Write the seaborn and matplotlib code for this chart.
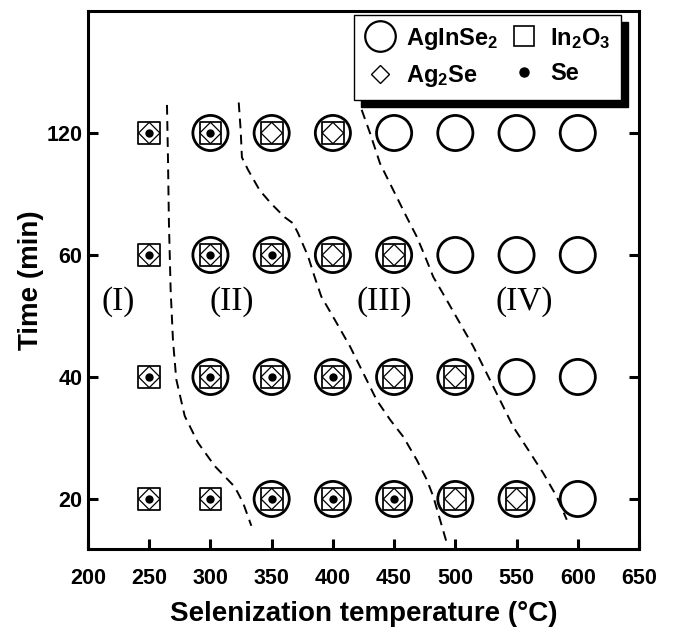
import numpy as np
import pandas as pd
import matplotlib
matplotlib.use("Agg")
import matplotlib.pyplot as plt
from matplotlib.lines import Line2D
import seaborn as sns

# Selenization conditions
temperature = [250, 300, 350, 400, 450, 500, 550, 600]
time_labels = ["20", "40", "60", "120"]          # evenly spaced on the axis

# Phase detected (1) or not (0): rows follow time_labels, columns follow temperature
agInSe2 = [[0, 0, 1, 1, 1, 1, 1, 1],
           [0, 1, 1, 1, 1, 1, 1, 1],
           [0, 1, 1, 1, 1, 1, 1, 1],
           [0, 1, 1, 1, 1, 1, 1, 1]]
in2o3 = [[1, 1, 1, 1, 1, 1, 1, 0],
         [1, 1, 1, 1, 1, 1, 0, 0],
         [1, 1, 1, 1, 1, 0, 0, 0],
         [1, 1, 1, 1, 0, 0, 0, 0]]
ag2se = [[1, 1, 1, 1, 1, 1, 1, 0],
         [1, 1, 1, 1, 1, 1, 0, 0],
         [1, 1, 1, 1, 1, 0, 0, 0],
         [1, 1, 1, 1, 0, 0, 0, 0]]
se = [[1, 1, 1, 1, 1, 0, 0, 0],
      [1, 1, 1, 1, 0, 0, 0, 0],
      [1, 1, 1, 0, 0, 0, 0, 0],
      [1, 1, 0, 0, 0, 0, 0, 0]]

# Phase boundaries (temperature, time position on the categorical axis)
b1_temp = [264.5, 265.3, 266.1, 267.5, 269.4, 272.1, 279.0, 289.9, 303.5, 319.8, 326.6, 333.4]
b1_pos = [3.23, 2.80, 2.26, 1.71, 1.30, 0.98, 0.68, 0.46, 0.27, 0.10, -0.03, -0.22]
b2_temp = [323.1, 324.7, 325.7, 330.6, 340.2, 349.7, 360.6, 367.4, 371.5, 379.7, 385.1,
           390.5, 401.5, 414.0, 424.9, 435.8, 446.7, 457.5, 468.5, 476.6, 482.0, 487.5, 493.0]
b2_pos = [3.25, 3.02, 2.80, 2.70, 2.53, 2.42, 2.31, 2.26, 2.18, 1.99, 1.82,
          1.66, 1.47, 1.25, 1.03, 0.81, 0.65, 0.51, 0.32, 0.16, 0.02, -0.17, -0.36]
b3_temp = [423.5, 430.3, 438.5, 449.4, 460.3, 468.5, 475.2, 482.0, 493.0, 503.8, 514.7,
           525.6, 536.5, 547.4, 561.0, 571.9, 582.8, 591.0]
b3_pos = [3.19, 3.00, 2.75, 2.53, 2.31, 2.15, 1.99, 1.82, 1.63, 1.44, 1.25,
          1.03, 0.81, 0.59, 0.38, 0.21, 0.02, -0.17]

# Region labels
region_names = ["(I)", "(II)", "(III)", "(IV)"]
region_temp = [224.5, 317.4, 441.9, 556.0]
region_pos = [1.615, 1.615, 1.615, 1.615]


def phase_frame(flags):
    rows = []
    for i, row in enumerate(flags):
        for t, f in zip(temperature, row):
            if f:
                rows.append({"temperature": t, "pos": i})
    return pd.DataFrame(rows)


sns.set_theme(style="white")
plt.rcParams["font.family"] = ["Liberation Sans", "DejaVu Sans"]
plt.rcParams["text.color"] = "black"
plt.rcParams["axes.labelcolor"] = "black"
plt.rcParams["mathtext.fontset"] = "custom"
plt.rcParams["mathtext.rm"] = "Liberation Sans:bold"
plt.rcParams["mathtext.it"] = "Liberation Sans:bold"
plt.rcParams["mathtext.bf"] = "Liberation Sans:bold"

fig = plt.figure(figsize=(6.74, 6.35), dpi=100)
ax = fig.add_axes([88 / 674, 86 / 635, 551 / 674, 538 / 635])

# Boundaries between regions
dash = (0, (5.0, 3.3))
for bx, by in [(b1_temp, b1_pos), (b2_temp, b2_pos), (b3_temp, b3_pos)]:
    sns.lineplot(x=bx, y=by, sort=False, estimator=None, color="black",
                 linewidth=1.4, linestyle=dash, ax=ax, legend=False)

# Phase symbols
sns.scatterplot(data=phase_frame(agInSe2), x="temperature", y="pos", marker="o",
                s=640, facecolor="none", edgecolor="black", linewidth=2.0, ax=ax, zorder=3)
sns.scatterplot(data=phase_frame(in2o3), x="temperature", y="pos", marker="s",
                s=245, facecolor="none", edgecolor="black", linewidth=1.25, ax=ax, zorder=4)
sns.scatterplot(data=phase_frame(ag2se), x="temperature", y="pos", marker="D",
                s=118, facecolor="none", edgecolor="black", linewidth=0.9, ax=ax, zorder=5)
sns.scatterplot(data=phase_frame(se), x="temperature", y="pos", marker="o",
                s=36, color="black", edgecolor="black", linewidth=0, ax=ax, zorder=6)

for name, tx, ty in zip(region_names, region_temp, region_pos):
    ax.text(tx, ty, name, ha="center", va="center", fontsize=24,
            family="Liberation Serif", color="black")

ax.set_xlim(200, 650)
ax.set_ylim(-0.41, 4.0)
ax.set_xticks(np.arange(200, 651, 50))
ax.set_yticks(range(len(time_labels)))
ax.set_yticklabels(time_labels)
ax.set_xlabel("Selenization temperature (\u00b0C)", fontsize=20, fontweight="bold", labelpad=8)
ax.set_ylabel("Time (min)", fontsize=20, fontweight="bold", labelpad=2)

for s in ax.spines.values():
    s.set_linewidth(2.2)
    s.set_color("black")
ax.tick_params(axis="both", direction="in", length=7, width=2.2, colors="black",
               labelsize=15.5)
ax.tick_params(axis="x", bottom=True, top=False, pad=14)
ax.tick_params(axis="y", right=True, left=True, pad=4)
for lab in ax.get_xticklabels() + ax.get_yticklabels():
    lab.set_fontweight("bold")

handles = [
    Line2D([], [], marker="o", ls="none", ms=22, mfc="none", mec="black", mew=1.6),
    Line2D([], [], marker="D", ls="none", ms=9.5, mfc="none", mec="black", mew=1.0),
    Line2D([], [], marker="s", ls="none", ms=15, mfc="none", mec="black", mew=1.2),
    Line2D([], [], marker="o", ls="none", ms=6.5, mfc="black", mec="black"),
]
labels = ["AgInSe$_2$", "Ag$_2$Se", "In$_2$O$_3$", "Se"]
leg = ax.legend(handles, labels, ncol=2, loc="upper right",
                bbox_to_anchor=(533 / 551, 534 / 538), frameon=True, fancybox=False,
                shadow={"color": "black", "alpha": 1, "ox": 5, "oy": -5},
                prop={"weight": "bold", "size": 17}, handlelength=1.3, handletextpad=0.45,
                columnspacing=0.45, labelspacing=0.5, borderpad=0.45, borderaxespad=0)
leg.get_frame().set_edgecolor("black")
leg.get_frame().set_linewidth(1.0)
leg.set_zorder(10)

fig.savefig("out.png", dpi=100)
